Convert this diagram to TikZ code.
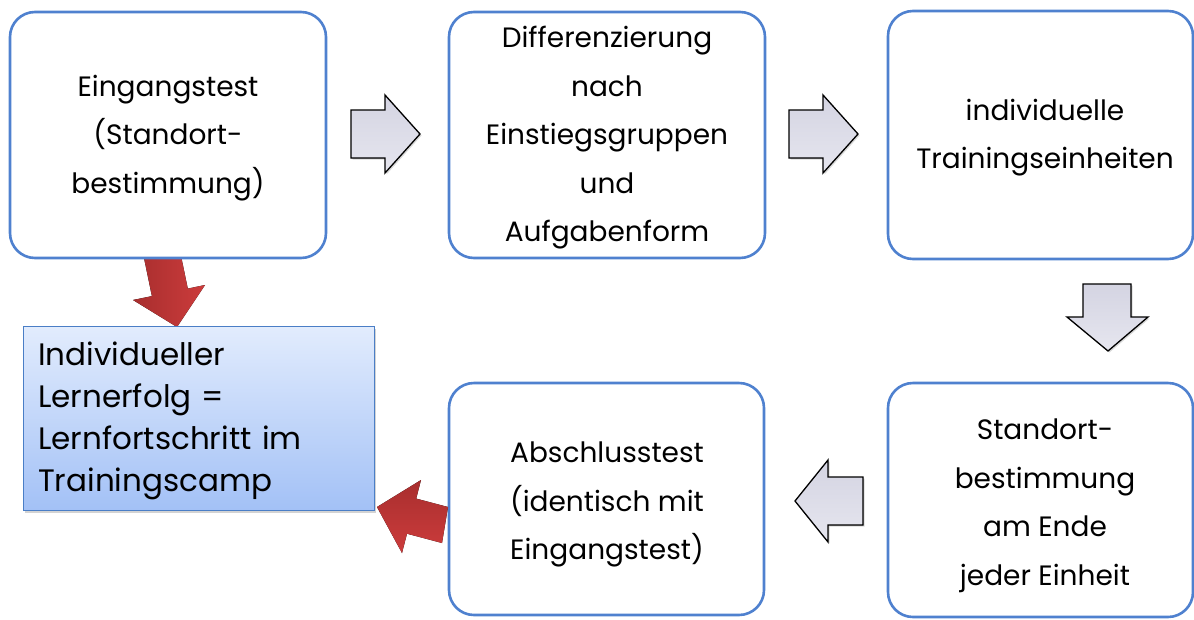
\documentclass[tikz,border=0pt]{standalone}
\usepackage{fontspec}
\setmainfont{Poppins}
\usetikzlibrary{shadows}
\definecolor{boxblue}{HTML}{4F81CF}
\definecolor{bluetop}{HTML}{E2ECFD}
\definecolor{bluebot}{HTML}{A3C1F6}
\definecolor{bluedraw}{HTML}{4A7EC6}
\definecolor{grayA}{HTML}{D4D4E2}
\definecolor{grayB}{HTML}{E6E6EF}
\definecolor{redA}{HTML}{A82E2E}
\definecolor{redB}{HTML}{CC3C3C}
\begin{document}
\begin{tikzpicture}[x=1pt,y=-1pt,
  stepbox/.style={draw=boxblue,line width=2.6pt,rounded corners=25pt,fill=white,inner sep=0pt},
  steptext/.style={align=center,font=\fontsize{28}{48.5}\selectfont,inner sep=0pt},
  grayarrow/.style={draw=black,line width=1.3pt,top color=grayA,bottom color=grayB,
    line join=miter,drop shadow={shadow xshift=1.5pt,shadow yshift=-1.5pt,opacity=.3}},
  redarrow/.style={draw=none,left color=redA,right color=redB},
  resultbox/.style={draw=bluedraw,line width=1pt,top color=bluetop,bottom color=bluebot,
    drop shadow={shadow xshift=2pt,shadow yshift=-3pt,opacity=.35}},
  resulttext/.style={align=left,font=\fontsize{31}{42}\selectfont,inner sep=0pt,text width=330pt}
]
\useasboundingbox (0,0) rectangle (1194,619);
% red arrow behind box 1
\fill[redarrow] (144,258) -- (180,251) -- (187.8,288.6) -- (205,285) -- (177,327) -- (133,300) -- (151.9,296.1) -- cycle;
% boxes
\node[stepbox,minimum width=316pt,minimum height=246pt] (b1) at (168,135) {};
\node[stepbox,minimum width=316pt,minimum height=246pt] (b2) at (607,135) {};
\node[stepbox,minimum width=305pt,minimum height=248pt] (b3) at (1040.5,135) {};
\node[stepbox,minimum width=305pt,minimum height=234pt] (b4) at (1040.5,500) {};
\node[stepbox,minimum width=315pt,minimum height=232pt] (b5) at (606.5,499) {};
\node[resultbox,minimum width=351pt,minimum height=184pt] (res) at (198.5,418) {};
% texts
\node[steptext] (t1) at (168,138) {Eingangstest\\(Standort-\\bestimmung)};
\node[steptext] (t2) at (607,138) {Differenzierung\\nach\\Einstiegsgruppen\\und\\Aufgabenform};
\node[steptext] (t3) at (1045,137.5) {individuelle\\Trainingseinheiten};
\node[steptext] (t4) at (1045,506) {Standort-\\bestimmung\\am Ende\\jeder Einheit};
\node[steptext] (t5) at (607,504.5) {Abschlusstest\\(identisch mit\\Eingangstest)};
\node[resulttext,anchor=west] (tr) at (38,420.5) {Individueller\\Lernerfolg =\\Lernfortschritt im\\Trainingscamp};
% gray block arrows
\filldraw[grayarrow] (351,110) -- (385,110) -- (385,95) -- (420,134) -- (385,173) -- (385,158) -- (351,158) -- cycle;
\filldraw[grayarrow] (789,110) -- (823,110) -- (823,95) -- (858,134) -- (823,173) -- (823,158) -- (789,158) -- cycle;
\filldraw[grayarrow] (1083,284) -- (1131,284) -- (1131,317) -- (1148,317) -- (1108,351) -- (1067,317) -- (1083,317) -- cycle;
\filldraw[grayarrow] (863,477) -- (828,477) -- (828,460) -- (795,501) -- (828,542) -- (828,525) -- (863,525) -- cycle;
% red arrow to result box
\fill[redarrow,top color=redA,bottom color=redB] (448,507) -- (442,543) -- (407,533.7) -- (402,553) -- (377,507) -- (421,480) -- (416.2,498.6) -- cycle;
\end{tikzpicture}
\end{document}
